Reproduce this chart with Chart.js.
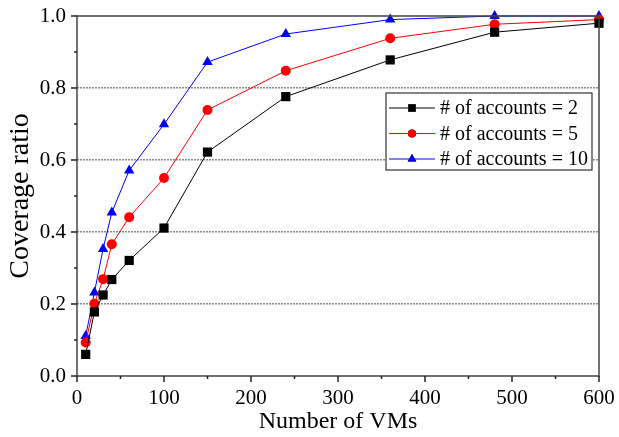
<!DOCTYPE html>
<html>
<head>
<meta charset="utf-8">
<script src="https://cdn.jsdelivr.net/npm/chart.js@4/dist/chart.umd.min.js"></script>
<style>
  body { margin: 0; background: #fff; }
  #wrap { width: 619px; height: 437px; }
</style>
</head>
<body>
<div id="wrap"><canvas id="coverageChart"></canvas></div>
<script>
// x values: number of VMs
const vms = [10, 20, 30, 40, 60, 100, 150, 240, 360, 480, 600];
const accounts2 = [0.06, 0.178, 0.225, 0.268, 0.321, 0.411, 0.622, 0.776, 0.878, 0.955, 0.98];
const accounts5 = [0.093, 0.201, 0.269, 0.366, 0.441, 0.55, 0.739, 0.848, 0.938, 0.977, 0.99];
const accounts10 = [0.111, 0.232, 0.353, 0.454, 0.571, 0.699, 0.872, 0.95, 0.99, 1.0, 1.0];
const seriesLabels = ["# of accounts = 2", "# of accounts = 5", "# of accounts = 10"];
const xTickLabels = [0, 100, 200, 300, 400, 500, 600];
const yTickLabels = [0.0, 0.2, 0.4, 0.6, 0.8, 1.0];

const serif = "'Liberation Serif', 'Times New Roman', serif";

function points(values) {
  return vms.map((v, i) => ({ x: v, y: values[i] }));
}

function makeSet(label, values, color, style, radius) {
  return {
    label: label,
    data: points(values),
    borderColor: color,
    backgroundColor: color,
    borderWidth: 1,
    pointStyle: style,
    pointRadius: radius,
    pointHoverRadius: radius,
    pointBorderWidth: 0,
    tension: 0,
    clip: false
  };
}

// frame, tick marks and legend
const framePlugin = {
  id: 'frame',
  afterDraw(chart) {
    const ctx = chart.ctx;
    const a = chart.chartArea;
    ctx.save();
    ctx.strokeStyle = '#444';
    ctx.lineWidth = 1.5;
    ctx.strokeRect(a.left, a.top, a.right - a.left, a.bottom - a.top);

    // ticks (outward)
    ctx.strokeStyle = '#222';
    ctx.lineWidth = 1.5;
    const xs = chart.scales.x;
    xs.ticks.forEach(t => {
      const px = xs.getPixelForValue(t.value);
      const major = xTickLabels.includes(t.value);
      ctx.beginPath();
      ctx.moveTo(px, a.bottom);
      ctx.lineTo(px, a.bottom + (major ? 6 : 3));
      ctx.stroke();
    });
    const ys = chart.scales.y;
    ys.ticks.forEach(t => {
      const py = ys.getPixelForValue(t.value);
      const major = Math.round(t.value * 10) % 2 === 0;
      ctx.beginPath();
      ctx.moveTo(a.left, py);
      ctx.lineTo(a.left - (major ? 6 : 3), py);
      ctx.stroke();
    });

    // legend box
    const bx = 386, by = 93, bw = 206, bh = 77;
    ctx.fillStyle = '#fff';
    ctx.fillRect(bx, by, bw, bh);
    ctx.strokeStyle = '#333';
    ctx.lineWidth = 1.2;
    ctx.strokeRect(bx, by, bw, bh);
    ctx.font = '20px ' + serif;
    ctx.textBaseline = 'middle';
    ctx.textAlign = 'left';
    chart.data.datasets.forEach((ds, i) => {
      const ry = by + 15 + i * 25.5;
      ctx.strokeStyle = ds.borderColor;
      ctx.lineWidth = 1;
      ctx.beginPath();
      ctx.moveTo(bx + 3, ry);
      ctx.lineTo(bx + 49, ry);
      ctx.stroke();
      Chart.helpers.drawPoint(ctx, {
        pointStyle: ds.pointStyle,
        radius: ds.pointRadius - 1,
        borderWidth: 0,
        rotation: 0
      }, bx + 26, ry);
      ctx.fillStyle = ds.borderColor;
      ctx.fill();
      ctx.fillStyle = '#000';
      ctx.fillText(ds.label, bx + 54, ry + 1);
    });
    ctx.restore();
  }
};

new Chart(document.getElementById('coverageChart'), {
  type: 'line',
  data: {
    datasets: [
      makeSet(seriesLabels[0], accounts2, '#000000', 'rect', 6.5),
      makeSet(seriesLabels[1], accounts5, '#ff0000', 'circle', 5),
      makeSet(seriesLabels[2], accounts10, '#0000ff', 'triangle', 6)
    ]
  },
  options: {
    responsive: true,
    maintainAspectRatio: false,
    animation: false,
    layout: { padding: { top: 16, right: 20, left: 0, bottom: 0 } },
    plugins: {
      legend: { display: false },
      tooltip: { enabled: false }
    },
    scales: {
      x: {
        type: 'linear',
        min: 0,
        max: 600,
        afterFit(scale) {
          scale.height = 61;
          scale.paddingLeft = 0;
          scale.paddingRight = 0;
        },
        ticks: {
          stepSize: 50,
          padding: 10,
          color: '#000',
          font: { family: serif, size: 21 },
          maxRotation: 0,
          autoSkip: false,
          callback: v => xTickLabels.includes(v) ? String(v) : ''
        },
        grid: { display: false, drawTicks: false },
        border: { display: false },
        title: {
          display: true,
          text: 'Number of VMs',
          color: '#000',
          font: { family: serif, size: 24 },
          padding: { top: 0, bottom: 1 }
        }
      },
      y: {
        min: 0,
        max: 1,
        afterFit(scale) {
          scale.width = 77;
          scale.paddingTop = 0;
          scale.paddingBottom = 0;
        },
        ticks: {
          stepSize: 0.1,
          padding: 11,
          color: '#000',
          font: { family: serif, size: 21 },
          autoSkip: false,
          callback: v => {
            const k = Math.round(v * 10);
            return k % 2 === 0 ? yTickLabels[k / 2].toFixed(1) : '';
          }
        },
        grid: {
          drawTicks: false,
          lineWidth: 1.5,
          color: c => {
            const k = Math.round(c.tick.value * 10);
            return (k % 2 === 0 && k > 0 && k < 10) ? '#8a8a8a' : 'rgba(0,0,0,0)';
          }
        },
        border: { display: false, dash: [2, 1] },
        title: {
          display: true,
          text: 'Coverage ratio',
          color: '#000',
          font: { family: serif, size: 28 },
          padding: { top: 4, bottom: 0 }
        }
      }
    }
  },
  plugins: [framePlugin]
});
</script>
</body>
</html>
